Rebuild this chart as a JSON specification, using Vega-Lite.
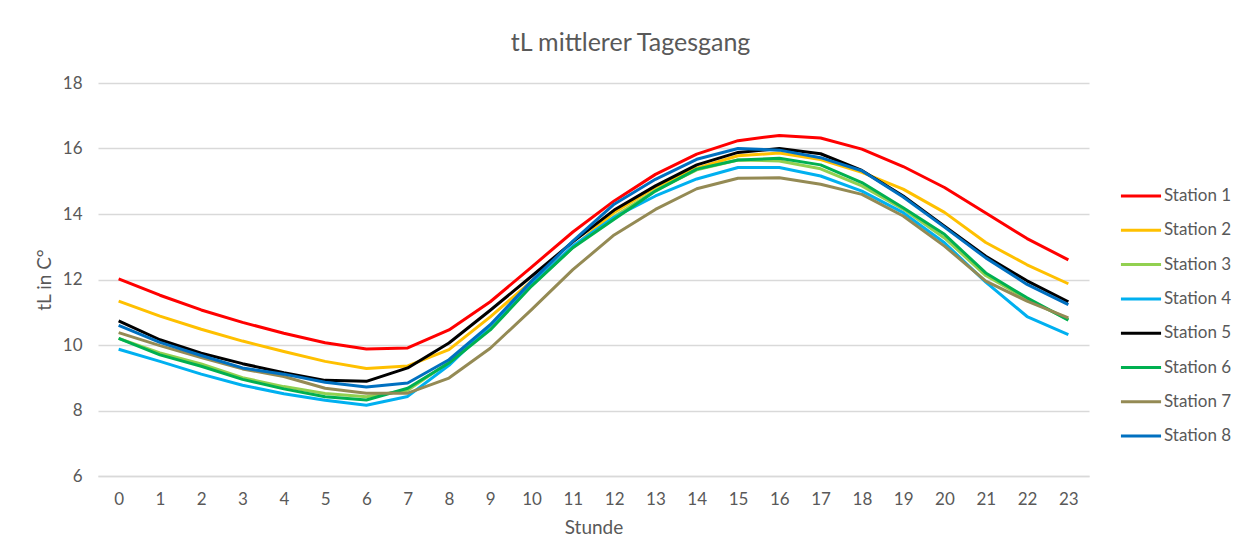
{
  "$schema": "https://vega.github.io/schema/vega-lite/v6.json",
  "width": 991,
  "height": 393,
  "autosize": {"type": "none"},
  "padding": {"left": 98, "top": 83, "right": 159, "bottom": 84},
  "background": "white",
  "title": {"text": "tL mittlerer Tagesgang", "font": "Lato", "fontSize": 25, "fontWeight": "normal", "color": "#595959", "anchor": "middle", "dx": 37, "offset": 18},
  "data": {"values": [
    {"Stunde": 0, "Station 1": 12.02, "Station 2": 11.34, "Station 3": 10.20, "Station 4": 9.87, "Station 5": 10.74, "Station 6": 10.20, "Station 7": 10.38, "Station 8": 10.60},
    {"Stunde": 1, "Station 1": 11.52, "Station 2": 10.88, "Station 3": 9.76, "Station 4": 9.50, "Station 5": 10.16, "Station 6": 9.70, "Station 7": 9.98, "Station 8": 10.08},
    {"Stunde": 2, "Station 1": 11.07, "Station 2": 10.48, "Station 3": 9.42, "Station 4": 9.11, "Station 5": 9.75, "Station 6": 9.35, "Station 7": 9.62, "Station 8": 9.68},
    {"Stunde": 3, "Station 1": 10.69, "Station 2": 10.12, "Station 3": 9.00, "Station 4": 8.77, "Station 5": 9.43, "Station 6": 8.95, "Station 7": 9.27, "Station 8": 9.30},
    {"Stunde": 4, "Station 1": 10.36, "Station 2": 9.80, "Station 3": 8.73, "Station 4": 8.51, "Station 5": 9.15, "Station 6": 8.66, "Station 7": 9.04, "Station 8": 9.11},
    {"Stunde": 5, "Station 1": 10.07, "Station 2": 9.50, "Station 3": 8.52, "Station 4": 8.31, "Station 5": 8.92, "Station 6": 8.42, "Station 7": 8.68, "Station 8": 8.86},
    {"Stunde": 6, "Station 1": 9.88, "Station 2": 9.28, "Station 3": 8.42, "Station 4": 8.16, "Station 5": 8.89, "Station 6": 8.32, "Station 7": 8.53, "Station 8": 8.72},
    {"Stunde": 7, "Station 1": 9.91, "Station 2": 9.36, "Station 3": 8.62, "Station 4": 8.43, "Station 5": 9.30, "Station 6": 8.68, "Station 7": 8.53, "Station 8": 8.84},
    {"Stunde": 8, "Station 1": 10.46, "Station 2": 9.86, "Station 3": 9.47, "Station 4": 9.38, "Station 5": 10.06, "Station 6": 9.45, "Station 7": 8.99, "Station 8": 9.55},
    {"Stunde": 9, "Station 1": 11.32, "Station 2": 10.86, "Station 3": 10.52, "Station 4": 10.60, "Station 5": 11.06, "Station 6": 10.46, "Station 7": 9.90, "Station 8": 10.62},
    {"Stunde": 10, "Station 1": 12.38, "Station 2": 11.95, "Station 3": 11.82, "Station 4": 11.85, "Station 5": 12.10, "Station 6": 11.80, "Station 7": 11.08, "Station 8": 11.95},
    {"Stunde": 11, "Station 1": 13.45, "Station 2": 12.98, "Station 3": 12.98, "Station 4": 13.02, "Station 5": 13.15, "Station 6": 12.97, "Station 7": 12.30, "Station 8": 13.17},
    {"Stunde": 12, "Station 1": 14.40, "Station 2": 14.05, "Station 3": 13.92, "Station 4": 13.90, "Station 5": 14.12, "Station 6": 13.84, "Station 7": 13.36, "Station 8": 14.30},
    {"Stunde": 13, "Station 1": 15.21, "Station 2": 14.82, "Station 3": 14.72, "Station 4": 14.55, "Station 5": 14.86, "Station 6": 14.70, "Station 7": 14.14, "Station 8": 15.06},
    {"Stunde": 14, "Station 1": 15.83, "Station 2": 15.40, "Station 3": 15.35, "Station 4": 15.07, "Station 5": 15.50, "Station 6": 15.37, "Station 7": 14.77, "Station 8": 15.67},
    {"Stunde": 15, "Station 1": 16.24, "Station 2": 15.78, "Station 3": 15.65, "Station 4": 15.42, "Station 5": 15.88, "Station 6": 15.65, "Station 7": 15.09, "Station 8": 16.00},
    {"Stunde": 16, "Station 1": 16.40, "Station 2": 15.86, "Station 3": 15.62, "Station 4": 15.42, "Station 5": 16.00, "Station 6": 15.70, "Station 7": 15.11, "Station 8": 15.95},
    {"Stunde": 17, "Station 1": 16.32, "Station 2": 15.66, "Station 3": 15.38, "Station 4": 15.16, "Station 5": 15.84, "Station 6": 15.50, "Station 7": 14.91, "Station 8": 15.72},
    {"Stunde": 18, "Station 1": 15.98, "Station 2": 15.27, "Station 3": 14.86, "Station 4": 14.70, "Station 5": 15.33, "Station 6": 14.96, "Station 7": 14.60, "Station 8": 15.32},
    {"Stunde": 19, "Station 1": 15.45, "Station 2": 14.76, "Station 3": 14.15, "Station 4": 14.04, "Station 5": 14.55, "Station 6": 14.19, "Station 7": 13.94, "Station 8": 14.52},
    {"Stunde": 20, "Station 1": 14.81, "Station 2": 14.05, "Station 3": 13.27, "Station 4": 13.12, "Station 5": 13.63, "Station 6": 13.38, "Station 7": 13.02, "Station 8": 13.60},
    {"Stunde": 21, "Station 1": 14.03, "Station 2": 13.13, "Station 3": 12.12, "Station 4": 11.92, "Station 5": 12.71, "Station 6": 12.20, "Station 7": 11.95, "Station 8": 12.66},
    {"Stunde": 22, "Station 1": 13.25, "Station 2": 12.45, "Station 3": 11.40, "Station 4": 10.87, "Station 5": 11.96, "Station 6": 11.44, "Station 7": 11.34, "Station 8": 11.85},
    {"Stunde": 23, "Station 1": 12.60, "Station 2": 11.87, "Station 3": 10.78, "Station 4": 10.32, "Station 5": 11.32, "Station 6": 10.76, "Station 7": 10.83, "Station 8": 11.23}
  ]},
  "transform": [
    {"fold": ["Station 1", "Station 2", "Station 3", "Station 4", "Station 5", "Station 6", "Station 7", "Station 8"], "as": ["Station", "tL"]}
  ],
  "mark": {"type": "line", "strokeWidth": 3, "strokeJoin": "round"},
  "encoding": {
    "x": {
      "field": "Stunde", "type": "ordinal",
      "scale": {"type": "point", "padding": 0.5},
      "axis": {"title": "Stunde", "labelAngle": 0, "ticks": false, "domainColor": "#D9D9D9", "domainWidth": 1.5, "labelPadding": 15, "titlePadding": 11, "grid": false}
    },
    "y": {
      "field": "tL", "type": "quantitative",
      "scale": {"domain": [6, 18], "nice": false, "zero": false},
      "axis": {"title": "tL in C°", "values": [6, 8, 10, 12, 14, 16, 18], "domain": false, "ticks": false, "gridColor": "#D9D9D9", "gridWidth": 1.5, "labelPadding": 16, "titlePadding": 8}
    },
    "color": {
      "field": "Station", "type": "nominal",
      "scale": {
        "domain": ["Station 1", "Station 2", "Station 3", "Station 4", "Station 5", "Station 6", "Station 7", "Station 8"],
        "range": ["#FF0000", "#FFC000", "#92D050", "#00B0F0", "#000000", "#00B050", "#948A54", "#0070C0"]
      },
      "legend": {
        "title": null, "orient": "none", "legendX": 1024, "legendY": 94,
        "symbolType": "M-1.17,0L1.17,0", "symbolSize": 1176, "symbolStrokeWidth": 3,
        "labelFont": "Lato", "labelFontSize": 17, "labelColor": "#595959", "labelOffset": 4,
        "rowPadding": 7.3
      }
    }
  },
  "config": {
    "view": {"stroke": null},
    "axis": {"labelFont": "Lato", "labelFontSize": 17, "labelColor": "#595959", "titleFont": "Lato", "titleFontSize": 19, "titleColor": "#595959", "titleFontWeight": "normal"}
  }
}
